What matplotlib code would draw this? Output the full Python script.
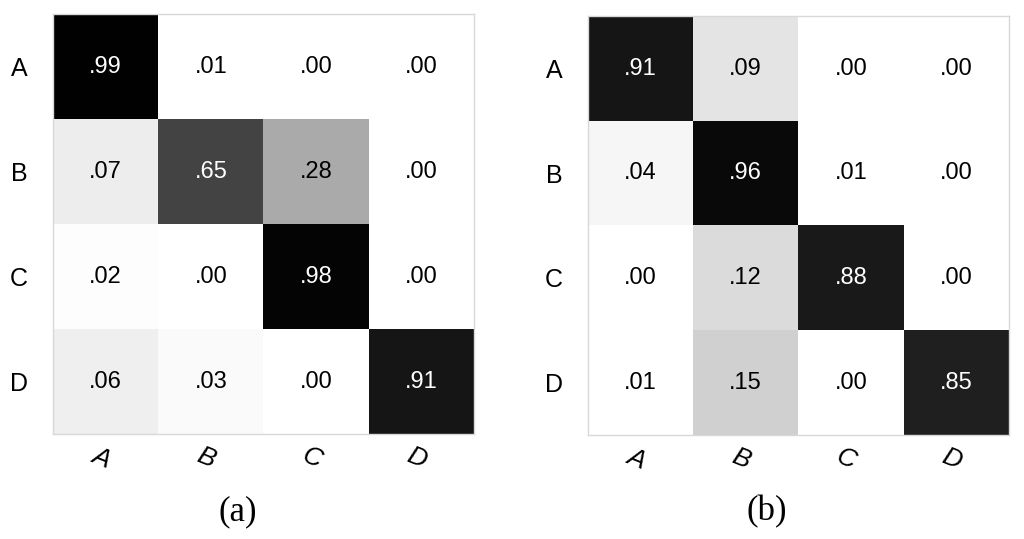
import matplotlib
matplotlib.use("Agg")
import matplotlib.pyplot as plt
import numpy as np
from matplotlib.colors import LinearSegmentedColormap

labels = ["A", "B", "C", "D"]

# confusion matrices (rows = true, cols = predicted)
mat_a = [[.99, .01, .00, .00],
         [.07, .65, .28, .00],
         [.02, .00, .98, .00],
         [.06, .03, .00, .91]]
mat_b = [[.91, .09, .00, .00],
         [.04, .96, .01, .00],
         [.00, .12, .88, .00],
         [.01, .15, .00, .85]]
captions = ["(a)", "(b)"]

# grey ramp, slightly darker than linear in the middle
cmap = LinearSegmentedColormap.from_list(
    "conf", [(0.0, "#ffffff"), (0.015, "#ffffff"), (0.15, "#d0d0d0"), (0.28, "#aaaaaa"),
             (0.65, "#444444"), (0.91, "#151515"), (1.0, "#000000")])

plt.rcParams['font.family'] = ['Liberation Sans', 'DejaVu Sans']

fig = plt.figure(figsize=(10.24, 5.39), dpi=100)
boxes = [[0.0518, 0.1948, 0.411, 0.779], [0.574, 0.193, 0.411, 0.777]]
cap_x = [238 / 1024, 767 / 1024]

for mat, box, cap, cx in zip([mat_a, mat_b], boxes, captions, cap_x):
    m = np.array(mat)
    ax = fig.add_axes(box)
    ax.imshow(m, cmap=cmap, vmin=0, vmax=1, aspect='auto', interpolation='nearest')
    for i in range(4):
        for j in range(4):
            v = m[i, j]
            txt = ("%.2f" % v)[1:]
            ax.text(j, i, txt, ha='center', va='center', fontsize=17,
                    color='white' if v > 0.5 else 'black')
    ax.set_xticks(range(4))
    ax.set_yticks(range(4))
    ax.set_xticklabels(labels, rotation=-22, fontsize=19, style='italic',
                       ha='center', va='top', rotation_mode='anchor')
    ax.set_yticklabels(labels, fontsize=18)
    ax.tick_params(length=0)
    ax.tick_params(axis='y', pad=18)
    ax.tick_params(axis='x', pad=9)
    for s in ax.spines.values():
        s.set_color('#d8d8d8')
        s.set_linewidth(1.0)
    fig.text(cx, 1 - 512 / 539, cap, ha='center', va='center', fontsize=25,
             family='Liberation Serif')

fig.savefig("out.png", dpi=100)
